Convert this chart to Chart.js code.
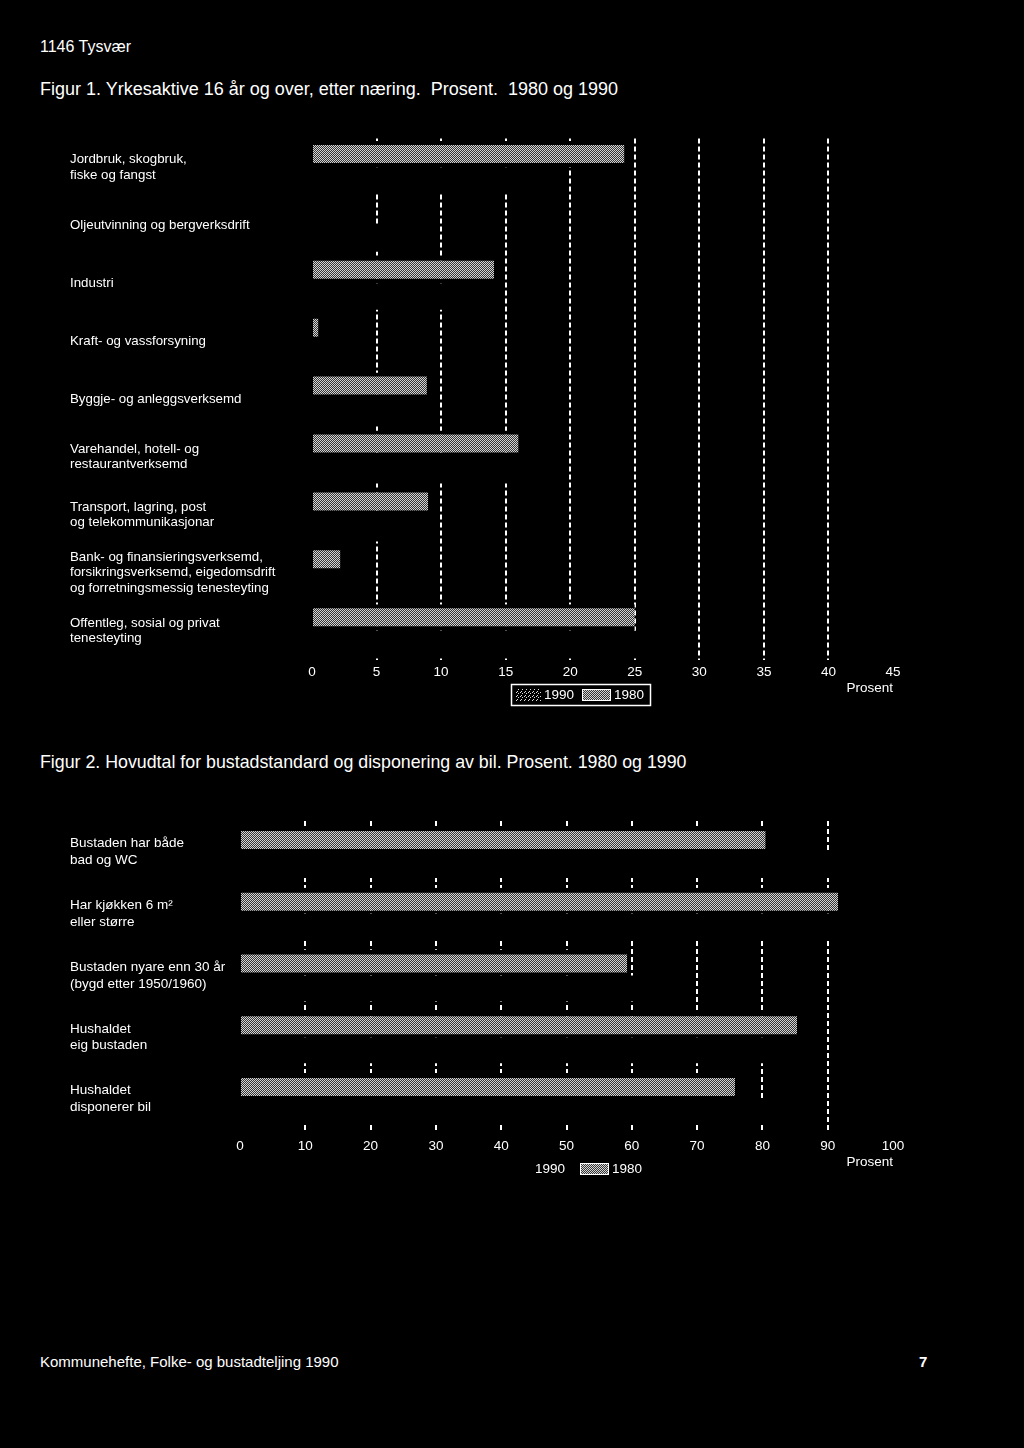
<!DOCTYPE html>
<html><head><meta charset="utf-8">
<script src="https://cdn.jsdelivr.net/npm/chart.js@4/dist/chart.umd.min.js"></script>
<style>
html,body{margin:0;padding:0;background:#000;}
body{width:1024px;height:1448px;position:relative;overflow:hidden;font-family:"Liberation Sans",Arial,Helvetica,sans-serif;color:#fff;}
.t{position:absolute;white-space:pre;line-height:1;}
canvas{position:absolute;left:0;}
</style></head><body>
<div class="t" style="left:40px;top:39px;font-size:16px">1146 Tysvær</div>
<div class="t" style="left:40px;top:80px;font-size:18px">Figur 1. Yrkesaktive 16 år og over, etter næring.  Prosent.  1980 og 1990</div>
<canvas id="c1" width="1024" height="600" style="top:120px"></canvas>
<div class="t" style="left:40px;top:754px;font-size:17.8px">Figur 2. Hovudtal for bustadstandard og disponering av bil. Prosent. 1980 og 1990</div>
<canvas id="c2" width="1024" height="400" style="top:800px"></canvas>
<div class="t" style="left:40px;top:1354px;font-size:15px">Kommunehefte, Folke- og bustadteljing 1990</div>
<div class="t" style="left:919px;top:1354px;font-size:15px;font-weight:bold">7</div>
<script>
// ---------- DATA ----------
const categories1 = [
  ["Jordbruk, skogbruk,", "fiske og fangst"],
  ["Oljeutvinning og bergverksdrift"],
  ["Industri"],
  ["Kraft- og vassforsyning"],
  ["Byggje- og anleggsverksemd"],
  ["Varehandel, hotell- og", "restaurantverksemd"],
  ["Transport, lagring, post", "og telekommunikasjonar"],
  ["Bank- og finansieringsverksemd,", "forsikringsverksemd, eigedomsdrift", "og forretningsmessig tenesteyting"],
  ["Offentleg, sosial og privat", "tenesteyting"]
];
const values1980_fig1 = [24.2, 0, 14.1, 0.5, 8.9, 16.0, 9.0, 2.2, 25.0];
const values1990_fig1 = [17.5, 7, 12.5, 0.8, 8, 15.5, 7.5, 4, 28];
const ticks1 = [0, 5, 10, 15, 20, 25, 30, 35, 40, 45];

const categories2 = [
  ["Bustaden har både", "bad og WC"],
  ["Har kjøkken 6 m²", "eller større"],
  ["Bustaden nyare enn 30 år", "(bygd etter 1950/1960)"],
  ["Hushaldet", "eig bustaden"],
  ["Hushaldet", "disponerer bil"]
];
const values1980_fig2 = [80.5, 91.6, 59.3, 85.3, 75.8];
const values1990_fig2 = [94, 95, 65, 86, 84];
const ticks2 = [0, 10, 20, 30, 40, 50, 60, 70, 80, 90, 100];

const seriesLabels = ["1980", "1990"];
const axisTitle = "Prosent";

// ---------- STYLE HELPERS ----------
const F = '"Liberation Sans", Arial, Helvetica, sans-serif';
function makePattern(draw, w, h) {
  const c = document.createElement('canvas'); c.width = w; c.height = h;
  const g = c.getContext('2d'); draw(g);
  return document.createElement('canvas').getContext('2d').createPattern(c, 'repeat');
}
const PATTERNS = {
  gray: makePattern(g => {
    g.fillStyle = '#363636'; g.fillRect(0, 0, 2, 2);
    g.fillStyle = '#d4d4d4'; g.fillRect(0, 0, 1, 1); g.fillRect(1, 1, 1, 1);
  }, 2, 2),
  speckle: makePattern(g => {
    g.fillStyle = '#000'; g.fillRect(0, 0, 4, 4);
    g.fillStyle = '#ddd'; g.fillRect(0, 0, 1, 1); g.fillRect(2, 1, 1, 1); g.fillRect(1, 3, 1, 1);
  }, 4, 4)
};

const boxLegend = {
  id: 'boxLegend',
  afterDraw(chart, args, o) {
    const ctx = chart.ctx; const ds = chart.data.datasets;
    ctx.save();
    ctx.font = o.font; ctx.textBaseline = 'middle'; ctx.textAlign = 'left';
    if (o.box) { ctx.strokeStyle = '#fff'; ctx.lineWidth = 1.5; ctx.strokeRect(o.box[0], o.box[1], o.box[2], o.box[3]); }
    o.items.forEach(it => {
      const d = ds[it.index];
      if (it.swatch) {
        ctx.fillStyle = PATTERNS[it.fill];
        ctx.fillRect(it.swatch[0], it.swatch[1], it.swatch[2], it.swatch[3]);
        if (it.stroke) { ctx.strokeStyle = '#fff'; ctx.lineWidth = 1; ctx.strokeRect(it.swatch[0] + 0.5, it.swatch[1] + 0.5, it.swatch[2] - 1, it.swatch[3] - 1); }
      }
      ctx.fillStyle = '#fff';
      ctx.fillText(d.label, it.x, o.y);
    });
    ctx.restore();
  }
};

function makeChart(id, labels, a1980, a1990, tickVals, opt) {
  const maxV = tickVals[tickVals.length - 1];
  return new Chart(document.getElementById(id), {
    type: 'bar',
    data: {
      labels: labels,
      datasets: [
        { label: seriesLabels[0], data: a1980, backgroundColor: PATTERNS.gray, borderColor: '#000',
          borderWidth: { top: opt.bt, bottom: opt.bb, left: 0, right: 0 }, borderSkipped: false },
        { label: seriesLabels[1], data: a1990, backgroundColor: '#000', borderWidth: 0 }
      ]
    },
    options: {
      indexAxis: 'y', responsive: false, animation: false, devicePixelRatio: 1,
      datasets: { bar: { categoryPercentage: opt.cp, barPercentage: 1 } },
      layout: { padding: { left: 70, right: 131, top: opt.pt, bottom: opt.pb } },
      plugins: { legend: { display: false }, tooltip: { enabled: false }, boxLegend: opt.legend },
      scales: {
        x: {
          min: tickVals[0], max: maxV, position: 'bottom',
          afterBuildTicks(s) { s.ticks = tickVals.map(v => ({ value: v })); },
          ticks: { color: '#fff', font: { family: F, size: 13.5 }, padding: opt.tp, maxRotation: 0, autoSkip: false },
          grid: {
            color: c => (c.tick && (c.tick.value === tickVals[0] || c.tick.value === maxV)) ? 'rgba(0,0,0,0)' : '#fff',
            lineWidth: 2, drawTicks: false
          },
          border: { display: false, dash: [5, 3] },
          title: { display: true, text: axisTitle, align: 'end', color: '#fff', font: { family: F, size: 13.5 }, padding: 0 },
          afterFit(s) { s.height = opt.xh; }
        },
        y: {
          ticks: { crossAlign: 'far', color: '#fff', font: { family: F, size: opt.fs, lineHeight: opt.lh }, autoSkip: false },
          grid: { display: false }, border: { display: false },
          afterFit(s) { s.width = opt.yw; }
        }
      }
    },
    plugins: [boxLegend]
  });
}

makeChart('c1', categories1, values1980_fig1, values1990_fig1, ticks1, {
  cp: 0.915, bt: 4, bb: 4.5, pt: 18.5, pb: 23.3, xh: 37, yw: 242, tp: 4.5, fs: 13.3, lh: 1.15,
  legend: {
    font: '13.5px ' + F, y: 575, box: [511.5, 564.5, 139, 21],
    items: [
      { index: 1, swatch: [516, 569, 25, 12], fill: 'speckle', x: 544 },
      { index: 0, swatch: [582, 569, 29, 12], fill: 'gray', stroke: true, x: 614 }
    ]
  }
});

makeChart('c2', categories2, values1980_fig2, values1990_fig2, ticks2, {
  cp: 0.842, bt: 5, bb: 3, pt: 21, pb: 30.1, xh: 40, yw: 170, tp: 8, fs: 13.5, lh: 1.25,
  legend: {
    font: '13.5px ' + F, y: 369, box: null,
    items: [
      { index: 1, x: 535 },
      { index: 0, swatch: [580, 363, 29, 12], fill: 'gray', stroke: true, x: 612 }
    ]
  }
});
</script>
</body></html>
